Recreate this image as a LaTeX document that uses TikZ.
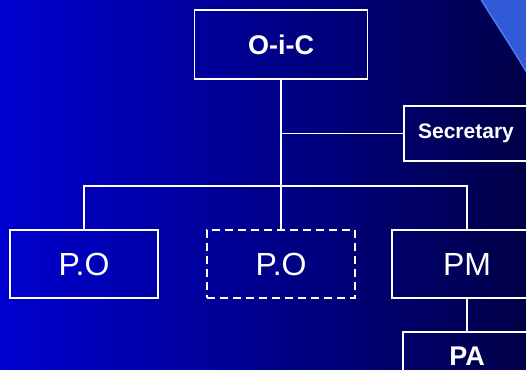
\documentclass[tikz,border=0pt]{standalone}
\usepackage{fontspec}
\setmainfont{Liberation Sans}
\definecolor{bgleft}{RGB}{0,0,208}
\definecolor{bgright}{RGB}{0,0,72}
\definecolor{cornerfill}{RGB}{51,90,214}
\definecolor{corneredge}{RGB}{72,124,255}
\tikzset{
  box/.style={draw=white, line width=1.5pt, text=white, inner sep=0pt, anchor=center},
  dashbox/.style={box, dash pattern=on 8pt off 5pt},
  link/.style={draw=white, line width=1.5pt},
  bigtext/.style={font=\fontsize{32}{36}\selectfont},
  boldtext/.style={font=\fontsize{27}{32}\selectfont\bfseries},
  smalltext/.style={font=\fontsize{21}{25}\selectfont\bfseries},
}
\begin{document}
\begin{tikzpicture}[x=1pt, y=-1pt]
  \useasboundingbox (0,0) rectangle (526,369);
  \clip (0,0) rectangle (526,369);
  % background
  \shade[left color=bgleft, right color=bgright] (0,0) rectangle (526,369);
  % corner decoration
  \fill[cornerfill] (480,-2) .. controls (500,30) and (515,52) .. (530,78) -- (530,-2) -- cycle;
  \draw[corneredge, line width=1.5pt] (480,-2) .. controls (500,30) and (515,52) .. (530,78);

  % boxes
  \node[box, boldtext, minimum width=173pt, minimum height=69pt] (oic) at (281,44.5) {O-i-C};
  \node[box, smalltext, minimum width=124pt, minimum height=55pt] (sec) at (466,133.5) {\raisebox{-2pt}{Secretary}};
  \node[box, bigtext, minimum width=148pt, minimum height=68pt] (po1) at (84,264) {P.O};
  \node[dashbox, bigtext, minimum width=148pt, minimum height=68pt] (po2) at (281,264) {P.O};
  \node[box, bigtext, minimum width=150pt, minimum height=68pt] (pm) at (467,264) {PM};
  \node[box, boldtext, minimum width=128pt, minimum height=68pt] (pa) at (467,366) {\raisebox{19pt}{PA}};

  % connectors
  \coordinate (busL) at (84,186);
  \coordinate (busR) at (467,186);
  \draw[link] (oic.south) -- (oic.south |- busL);
  \draw[link] (po1.north) -- (busL) -- (busR) -- (pm.north);
  \draw[link] (oic.south |- busL) -- (po2.north);
  \draw[link] (oic.south |- sec.west) -- (sec.west);
  \draw[link] (pm.south) -- (pa.north);
\end{tikzpicture}
\end{document}
